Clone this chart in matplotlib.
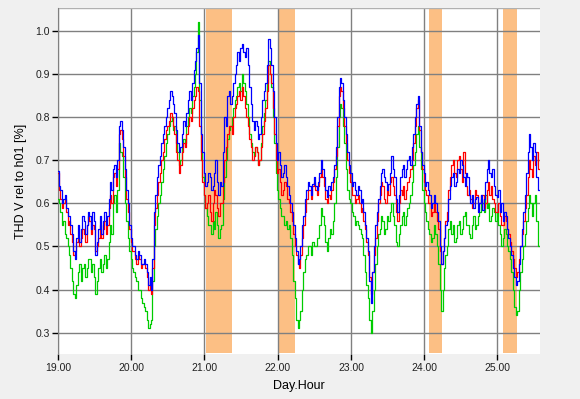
import matplotlib
matplotlib.use("Agg")
import matplotlib.pyplot as plt
import numpy as np

# sample times (day.hour), one value every 0.02 day
t0 = 19.0
dt = 0.02

blue = [0.675, 0.64, 0.63, 0.60, 0.61, 0.62, 0.59, 0.57, 0.57, 0.55,
        0.53, 0.49, 0.47, 0.52, 0.55, 0.51, 0.54, 0.57, 0.56, 0.53,
        0.55, 0.58, 0.57, 0.54, 0.58, 0.56, 0.48, 0.51, 0.54, 0.57,
        0.53, 0.56, 0.58, 0.55, 0.57, 0.61, 0.65, 0.63, 0.68, 0.69,
        0.66, 0.70, 0.78, 0.79, 0.77, 0.73, 0.68, 0.63, 0.60, 0.55,
        0.52, 0.50, 0.50, 0.48, 0.47, 0.49, 0.48, 0.46, 0.46, 0.47,
        0.46, 0.44, 0.41, 0.43, 0.40, 0.47, 0.58, 0.62, 0.66, 0.69,
        0.71, 0.74, 0.76, 0.78, 0.80, 0.82, 0.84, 0.86, 0.85, 0.83,
        0.81, 0.77, 0.74, 0.72, 0.73, 0.76, 0.79, 0.78, 0.81, 0.84,
        0.86, 0.84, 0.88, 0.91, 0.93, 0.96, 0.99, 0.88, 0.76, 0.72,
        0.67, 0.64, 0.65, 0.67, 0.66, 0.63, 0.64, 0.67, 0.70, 0.65,
        0.62, 0.65, 0.64, 0.72, 0.80, 0.78, 0.85, 0.86, 0.83, 0.85,
        0.88, 0.90, 0.92, 0.95, 0.93, 0.96, 0.97, 0.95, 0.94, 0.96,
        0.92, 0.87, 0.83, 0.79, 0.77, 0.79, 0.78, 0.75, 0.76, 0.80,
        0.84, 0.86, 0.88, 0.92, 0.98, 0.96, 0.92, 0.86, 0.80, 0.74,
        0.70, 0.72, 0.69, 0.66, 0.67, 0.69, 0.66, 0.64, 0.62, 0.60,
        0.58, 0.55, 0.52, 0.49, 0.46, 0.47, 0.50, 0.55, 0.57, 0.61,
        0.63, 0.65, 0.64, 0.62, 0.645, 0.66, 0.64, 0.63, 0.65, 0.67,
        0.70, 0.68, 0.66, 0.63, 0.615, 0.64, 0.63, 0.65, 0.66, 0.69,
        0.73, 0.80, 0.87, 0.89, 0.88, 0.84, 0.80, 0.76, 0.72, 0.69,
        0.67, 0.64, 0.65, 0.63, 0.62, 0.64, 0.63, 0.60, 0.61, 0.58,
        0.55, 0.52, 0.49, 0.42, 0.37, 0.44, 0.50, 0.55, 0.58, 0.61,
        0.64, 0.67, 0.68, 0.66, 0.65, 0.63, 0.645, 0.67, 0.71, 0.68,
        0.66, 0.61, 0.58, 0.62, 0.66, 0.68, 0.69, 0.66, 0.68, 0.70,
        0.71, 0.69, 0.73, 0.76, 0.80, 0.83, 0.85, 0.78, 0.72, 0.69,
        0.67, 0.64, 0.65, 0.63, 0.62, 0.59, 0.60, 0.62, 0.60, 0.58,
        0.56, 0.50, 0.46, 0.49, 0.52, 0.55, 0.56, 0.61, 0.64, 0.66,
        0.67, 0.64, 0.65, 0.68, 0.67, 0.70, 0.69, 0.66, 0.64, 0.67,
        0.66, 0.62, 0.60, 0.62, 0.59, 0.61, 0.615, 0.58, 0.60, 0.62,
        0.585, 0.61, 0.65, 0.68, 0.70, 0.67, 0.66, 0.68, 0.64, 0.62,
        0.615, 0.63, 0.58, 0.60, 0.56, 0.58, 0.57, 0.54, 0.52, 0.50,
        0.48, 0.45, 0.43, 0.41, 0.42, 0.46, 0.50, 0.54, 0.58, 0.62,
        0.67, 0.72, 0.76, 0.73, 0.70, 0.74, 0.72, 0.66, 0.63]

red = [0.67, 0.63, 0.61, 0.59, 0.60, 0.61, 0.58, 0.55, 0.56, 0.53,
       0.51, 0.48, 0.49, 0.51, 0.52, 0.50, 0.52, 0.54, 0.53, 0.51,
       0.55, 0.57, 0.56, 0.53, 0.55, 0.54, 0.49, 0.50, 0.52, 0.55,
       0.52, 0.54, 0.56, 0.53, 0.55, 0.59, 0.62, 0.60, 0.66, 0.67,
       0.64, 0.68, 0.76, 0.77, 0.75, 0.71, 0.66, 0.61, 0.58, 0.54,
       0.51, 0.49, 0.49, 0.47, 0.46, 0.48, 0.47, 0.45, 0.46, 0.46,
       0.45, 0.43, 0.40, 0.42, 0.39, 0.45, 0.55, 0.59, 0.62, 0.65,
       0.67, 0.70, 0.72, 0.75, 0.77, 0.78, 0.79, 0.81, 0.80, 0.78,
       0.76, 0.72, 0.70, 0.67, 0.69, 0.72, 0.74, 0.73, 0.76, 0.78,
       0.80, 0.79, 0.82, 0.84, 0.85, 0.87, 0.86, 0.78, 0.70, 0.65,
       0.62, 0.59, 0.60, 0.62, 0.58, 0.56, 0.60, 0.63, 0.62, 0.59,
       0.57, 0.60, 0.60, 0.65, 0.70, 0.73, 0.76, 0.78, 0.78, 0.76,
       0.80, 0.82, 0.83, 0.85, 0.86, 0.84, 0.87, 0.85, 0.82, 0.80,
       0.78, 0.75, 0.73, 0.70, 0.71, 0.73, 0.72, 0.69, 0.70, 0.73,
       0.76, 0.79, 0.82, 0.86, 0.92, 0.90, 0.88, 0.82, 0.76, 0.70,
       0.67, 0.68, 0.65, 0.62, 0.63, 0.65, 0.64, 0.61, 0.60, 0.58,
       0.56, 0.53, 0.50, 0.48, 0.46, 0.45, 0.48, 0.52, 0.55, 0.58,
       0.61, 0.63, 0.63, 0.61, 0.64, 0.65, 0.63, 0.62, 0.64, 0.66,
       0.68, 0.66, 0.64, 0.61, 0.60, 0.62, 0.61, 0.63, 0.65, 0.68,
       0.71, 0.78, 0.85, 0.87, 0.86, 0.82, 0.78, 0.74, 0.70, 0.67,
       0.65, 0.62, 0.62, 0.60, 0.61, 0.62, 0.60, 0.58, 0.59, 0.56,
       0.54, 0.51, 0.48, 0.43, 0.39, 0.44, 0.48, 0.52, 0.56, 0.60,
       0.62, 0.65, 0.64, 0.61, 0.60, 0.63, 0.62, 0.65, 0.66, 0.64,
       0.62, 0.58, 0.56, 0.60, 0.63, 0.62, 0.64, 0.61, 0.63, 0.65,
       0.66, 0.68, 0.70, 0.74, 0.78, 0.82, 0.84, 0.77, 0.72, 0.68,
       0.65, 0.63, 0.62, 0.60, 0.60, 0.57, 0.58, 0.60, 0.58, 0.56,
       0.54, 0.49, 0.46, 0.49, 0.52, 0.56, 0.58, 0.63, 0.66, 0.69,
       0.70, 0.67, 0.66, 0.70, 0.71, 0.68, 0.65, 0.72, 0.67, 0.64,
       0.62, 0.63, 0.61, 0.59, 0.60, 0.63, 0.62, 0.60, 0.60, 0.62,
       0.62, 0.59, 0.60, 0.63, 0.65, 0.62, 0.64, 0.61, 0.60, 0.58,
       0.58, 0.60, 0.57, 0.55, 0.55, 0.57, 0.56, 0.54, 0.53, 0.51,
       0.49, 0.47, 0.45, 0.43, 0.44, 0.47, 0.50, 0.53, 0.56, 0.59,
       0.62, 0.66, 0.70, 0.68, 0.66, 0.71, 0.69, 0.72, 0.68]

green = [0.61, 0.60, 0.58, 0.55, 0.56, 0.53, 0.52, 0.50, 0.48, 0.45,
         0.42, 0.39, 0.38, 0.41, 0.44, 0.46, 0.42, 0.45, 0.46, 0.43,
         0.45, 0.47, 0.47, 0.44, 0.46, 0.43, 0.39, 0.42, 0.45, 0.47,
         0.44, 0.46, 0.48, 0.45, 0.47, 0.51, 0.55, 0.53, 0.60, 0.62,
         0.58, 0.63, 0.74, 0.72, 0.71, 0.66, 0.60, 0.56, 0.52, 0.49,
         0.47, 0.45, 0.44, 0.43, 0.42, 0.40, 0.40, 0.38, 0.37, 0.36,
         0.35, 0.33, 0.31, 0.32, 0.33, 0.42, 0.50, 0.54, 0.57, 0.60,
         0.62, 0.65, 0.68, 0.71, 0.74, 0.76, 0.78, 0.79, 0.80, 0.77,
         0.78, 0.74, 0.72, 0.69, 0.70, 0.73, 0.75, 0.74, 0.78, 0.80,
         0.82, 0.81, 0.85, 0.87, 0.90, 0.95, 1.02, 0.84, 0.72, 0.66,
         0.62, 0.59, 0.57, 0.55, 0.55, 0.53, 0.56, 0.54, 0.58, 0.55,
         0.52, 0.54, 0.55, 0.61, 0.66, 0.70, 0.75, 0.77, 0.78, 0.80,
         0.82, 0.84, 0.85, 0.87, 0.88, 0.86, 0.90, 0.88, 0.86, 0.83,
         0.80, 0.76, 0.74, 0.72, 0.71, 0.73, 0.72, 0.69, 0.70, 0.74,
         0.78, 0.81, 0.84, 0.88, 0.93, 0.90, 0.87, 0.80, 0.74, 0.67,
         0.63, 0.61, 0.59, 0.57, 0.57, 0.55, 0.56, 0.54, 0.55, 0.52,
         0.48, 0.42, 0.38, 0.33, 0.31, 0.33, 0.35, 0.40, 0.44, 0.47,
         0.48, 0.50, 0.50, 0.48, 0.51, 0.50, 0.50, 0.52, 0.52, 0.55,
         0.59, 0.57, 0.55, 0.51, 0.49, 0.52, 0.54, 0.53, 0.56, 0.60,
         0.66, 0.73, 0.80, 0.83, 0.82, 0.78, 0.74, 0.68, 0.63, 0.61,
         0.60, 0.58, 0.57, 0.55, 0.56, 0.55, 0.54, 0.53, 0.52, 0.48,
         0.44, 0.41, 0.38, 0.33, 0.30, 0.35, 0.40, 0.46, 0.50, 0.53,
         0.54, 0.57, 0.56, 0.53, 0.54, 0.57, 0.56, 0.58, 0.60, 0.57,
         0.55, 0.51, 0.50, 0.53, 0.55, 0.57, 0.58, 0.55, 0.57, 0.59,
         0.60, 0.62, 0.65, 0.69, 0.72, 0.76, 0.78, 0.73, 0.68, 0.63,
         0.60, 0.58, 0.56, 0.54, 0.53, 0.51, 0.52, 0.55, 0.53, 0.50,
         0.46, 0.40, 0.35, 0.40, 0.45, 0.48, 0.50, 0.54, 0.56, 0.53,
         0.55, 0.51, 0.52, 0.55, 0.56, 0.53, 0.54, 0.57, 0.58, 0.55,
         0.55, 0.53, 0.52, 0.55, 0.57, 0.54, 0.55, 0.57, 0.58, 0.61,
         0.60, 0.58, 0.62, 0.59, 0.60, 0.56, 0.57, 0.59, 0.58, 0.56,
         0.58, 0.55, 0.53, 0.50, 0.52, 0.54, 0.53, 0.50, 0.49, 0.47,
         0.44, 0.40, 0.36, 0.34, 0.35, 0.40, 0.44, 0.47, 0.50, 0.53,
         0.56, 0.59, 0.62, 0.60, 0.57, 0.60, 0.62, 0.56, 0.50]

# shaded periods (start, end) in day.hour
bands = [(21.02, 21.38), (22.005, 22.24), (24.06, 24.24), (25.07, 25.26)]

x_ticks = [19, 20, 21, 22, 23, 24, 25]
y_ticks = [0.3, 0.4, 0.5, 0.6, 0.7, 0.8, 0.9, 1.0]

t = t0 + dt * np.arange(len(blue))

fig = plt.figure(figsize=(5.8, 3.99), dpi=100, facecolor="#f0f0f0")
ax = fig.add_axes([0.1, 0.112, 0.831, 0.868])
ax.set_facecolor("white")

for a, b in bands:
    ax.axvspan(a, b, ymin=0.005, ymax=1, color="#fcbf84", lw=0, zorder=1)

for v in y_ticks:
    ax.axhline(v, color="#808080", lw=1, zorder=2)
for v in x_ticks:
    ax.axvline(v, color="#808080", lw=1, zorder=2)

ax.plot(t, green, color="#00cc00", lw=0.9, drawstyle="steps-mid", zorder=3)
ax.plot(t, red, color="#ff0000", lw=0.9, drawstyle="steps-mid", zorder=4)
ax.plot(t, blue, color="#0000ff", lw=0.9, drawstyle="steps-mid", zorder=5)

ax.set_xlim(19.0, 25.58)
ax.set_ylim(0.25, 1.053)
ax.set_xticks(x_ticks)
ax.set_xticklabels(["%.2f" % v for v in x_ticks])
ax.set_yticks(y_ticks)
ax.set_yticklabels(["%.1f" % v for v in y_ticks])

for s in ["top", "right", "bottom"]:
    ax.spines[s].set_visible(False)
ax.spines["left"].set_color("#808080")
ax.axhline(1.053, color="#b0b0b0", lw=1, zorder=2)

ax.tick_params(axis="both", length=4, width=1, color="black",
               labelsize=7.5, labelcolor="#202020", pad=2)

ax.set_xlabel("Day.Hour", fontsize=9, family="Liberation Sans", labelpad=5)
ax.set_ylabel("THD V rel to h01 [%]", fontsize=9, family="Liberation Sans", labelpad=6)
for lab in ax.get_xticklabels() + ax.get_yticklabels():
    lab.set_family("Liberation Sans")

fig.savefig("out.png", dpi=100, facecolor=fig.get_facecolor())
